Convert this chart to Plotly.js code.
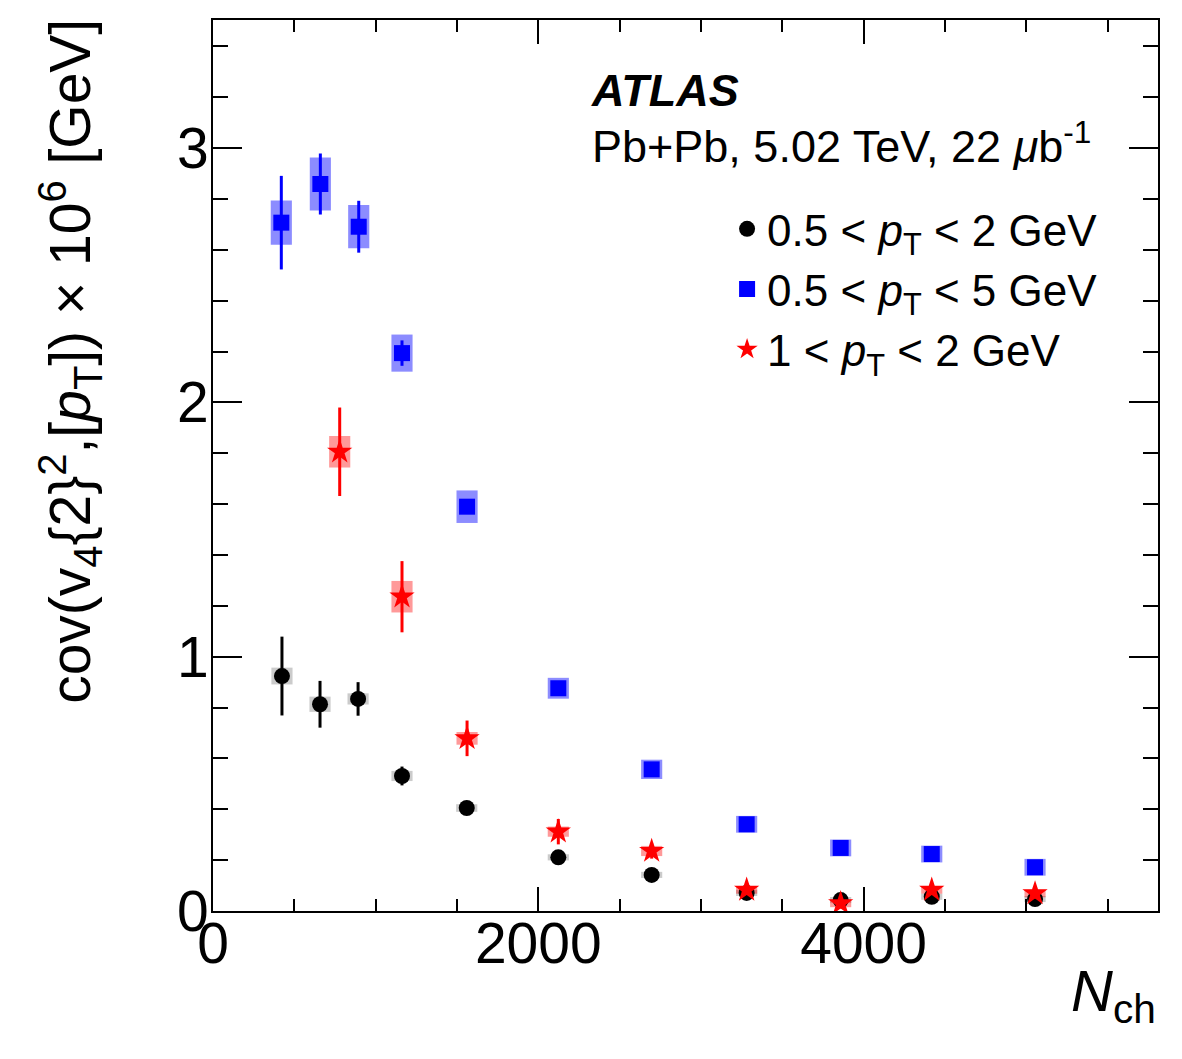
<!DOCTYPE html>
<html>
<head>
<meta charset="utf-8">
<script src="https://cdn.plot.ly/plotly-3.0.1.min.js"></script>
<style>html,body{margin:0;padding:0;background:#fff;}#chart{width:1182px;height:1059px;}</style>
</head>
<body>
<div id="chart"></div>
<script>
// Series 1: 0.5 < pT < 2 GeV (black circles)
const nchA   = [424, 658, 892, 1162, 1560, 2123, 2697, 3281, 3859, 4419, 5054];
const covA   = [0.924, 0.813, 0.834, 0.531, 0.405, 0.211, 0.142, 0.071, 0.043, 0.056, 0.047];
const statA  = [0.155, 0.092, 0.066, 0.037, 0.015, 0.012, 0.010, 0.010, 0.010, 0.010, 0.010];
const sysA   = [0.033, 0.030, 0.022, 0.020, 0.015, 0.012, 0.012, 0.012, 0.012, 0.012, 0.012];
// Series 2: 0.5 < pT < 5 GeV (blue squares)
const nchB   = [420, 660, 896, 1162, 1562, 2123, 2697, 3281, 3859, 4419, 5054];
const covB   = [2.707, 2.859, 2.691, 2.194, 1.590, 0.876, 0.557, 0.341, 0.248, 0.224, 0.172];
const statB  = [0.184, 0.120, 0.102, 0.050, 0.020, 0.015, 0.012, 0.010, 0.010, 0.010, 0.010];
const sysB   = [0.087, 0.104, 0.085, 0.073, 0.064, 0.041, 0.038, 0.033, 0.033, 0.033, 0.033];
// Series 3: 1 < pT < 2 GeV (red stars)
const nchC   = [779, 1162, 1562, 2123, 2697, 3281, 3859, 4419, 5054];
const covC   = [1.806, 1.236, 0.679, 0.312, 0.236, 0.083, 0.030, 0.083, 0.069];
const statC  = [0.174, 0.140, 0.070, 0.050, 0.030, 0.020, 0.020, 0.020, 0.020];
const sysC   = [0.062, 0.062, 0.025, 0.020, 0.020, 0.015, 0.015, 0.015, 0.015];

const names = ['0.5 < <i>p</i><sub>T</sub> < 2 GeV', '0.5 < <i>p</i><sub>T</sub> < 5 GeV', '1 < <i>p</i><sub>T</sub> < 2 GeV'];
const xTicks = [0, 2000, 4000];
const yTicks = [0, 1, 2, 3];

const FONT = 'Liberation Sans, Arial, Helvetica, sans-serif';
const BOXW = 130;

function sysBox(x, y, s, color) {
  return {
    type: 'bar', x: x, y: s.map(v => 2 * v), base: y.map((v, i) => v - s[i]),
    width: x.map(() => BOXW), marker: {color: color, line: {width: 0}},
    showlegend: false, hoverinfo: 'skip'
  };
}
function points(x, y, e, name, color, symbol, size) {
  return {
    type: 'scatter', mode: 'markers', x: x, y: y, name: name,
    marker: {color: color, symbol: symbol, size: size, line: {width: 0}},
    error_y: {type: 'data', array: e, visible: true, color: color, thickness: 3, width: 0}
  };
}

const data = [
  sysBox(nchA, covA, sysA, 'rgba(160,160,160,0.55)'),
  sysBox(nchB, covB, sysB, 'rgba(0,0,255,0.45)'),
  sysBox(nchC, covC, sysC, 'rgba(255,0,0,0.4)'),
  points(nchA, covA, statA, names[0], '#000000', 'circle', 16),
  points(nchB, covB, statB, names[1], '#0000ff', 'square', 16),
  points(nchC, covC, statC, names[2], '#ff0000', 'star', 19)
];

const layout = {
  width: 1182, height: 1059,
  margin: {l: 213, r: 24, t: 20, b: 148},
  paper_bgcolor: '#ffffff', plot_bgcolor: '#ffffff',
  font: {family: FONT, color: '#000', size: 46},
  barmode: 'overlay',
  showlegend: true,
  legend: {
    x: 0.544, y: 0.805, xanchor: 'left', yanchor: 'top',
    bgcolor: 'rgba(0,0,0,0)', borderwidth: 0,
    font: {family: FONT, size: 44, color: '#000'},
    tracegroupgap: 0, itemwidth: 30
  },
  xaxis: {
    range: [0, 5810], showgrid: false, zeroline: false,
    showline: true, linecolor: '#000', linewidth: 2, mirror: 'ticks',
    ticks: 'inside', ticklen: 24, tickwidth: 2, tickcolor: '#000',
    tickvals: xTicks, ticktext: xTicks.map(String),
    ticklabelstandoff: -18,
    tickfont: {family: FONT, size: 57, color: '#000'},
    minor: {dtick: 500, tick0: 0, ticklen: 12, tickwidth: 2, tickcolor: '#000', ticks: 'inside', showgrid: false}
  },
  yaxis: {
    range: [0, 3.504], showgrid: false, zeroline: false,
    showline: true, linecolor: '#000', linewidth: 2, mirror: 'ticks',
    ticks: 'inside', ticklen: 29, tickwidth: 2, tickcolor: '#000',
    tickvals: yTicks, ticktext: yTicks.map(String),
    ticklabelstandoff: -9,
    tickfont: {family: FONT, size: 57, color: '#000'},
    minor: {dtick: 0.2, tick0: 0, ticklen: 15, tickwidth: 2, tickcolor: '#000', ticks: 'inside', showgrid: false}
  },
  annotations: [
    {xref: 'paper', yref: 'paper', x: 0.398, y: 0.9214, xanchor: 'left', yanchor: 'middle', showarrow: false,
     text: '<b><i>ATLAS</i></b>', font: {family: FONT, size: 45, color: '#000'}},
    {xref: 'paper', yref: 'paper', x: 0.399, y: 0.862, xanchor: 'left', yanchor: 'middle', showarrow: false,
     text: 'Pb+Pb, 5.02 TeV, 22 <i>μ</i>b<sup>-1</sup>', font: {family: FONT, size: 45, color: '#000'}},
    {xref: 'paper', yref: 'paper', x: 1.0, y: -0.094, xanchor: 'right', yanchor: 'middle', showarrow: false,
     text: '<i>N</i><sub>ch</sub>', font: {family: FONT, size: 58, color: '#000'}},
    {xref: 'paper', yref: 'paper', x: -0.1513, y: 1.003, xanchor: 'center', yanchor: 'top', showarrow: false,
     textangle: -90,
     text: 'cov(v<sub>4</sub>{2}<sup>2</sup>,[<i>p</i><sub>T</sub>]) × 10<sup>6</sup> [GeV]',
     font: {family: FONT, size: 57, color: '#000'}}
  ]
};

Plotly.newPlot('chart', data, layout, {displayModeBar: false, staticPlot: true});
</script>
</body>
</html>
